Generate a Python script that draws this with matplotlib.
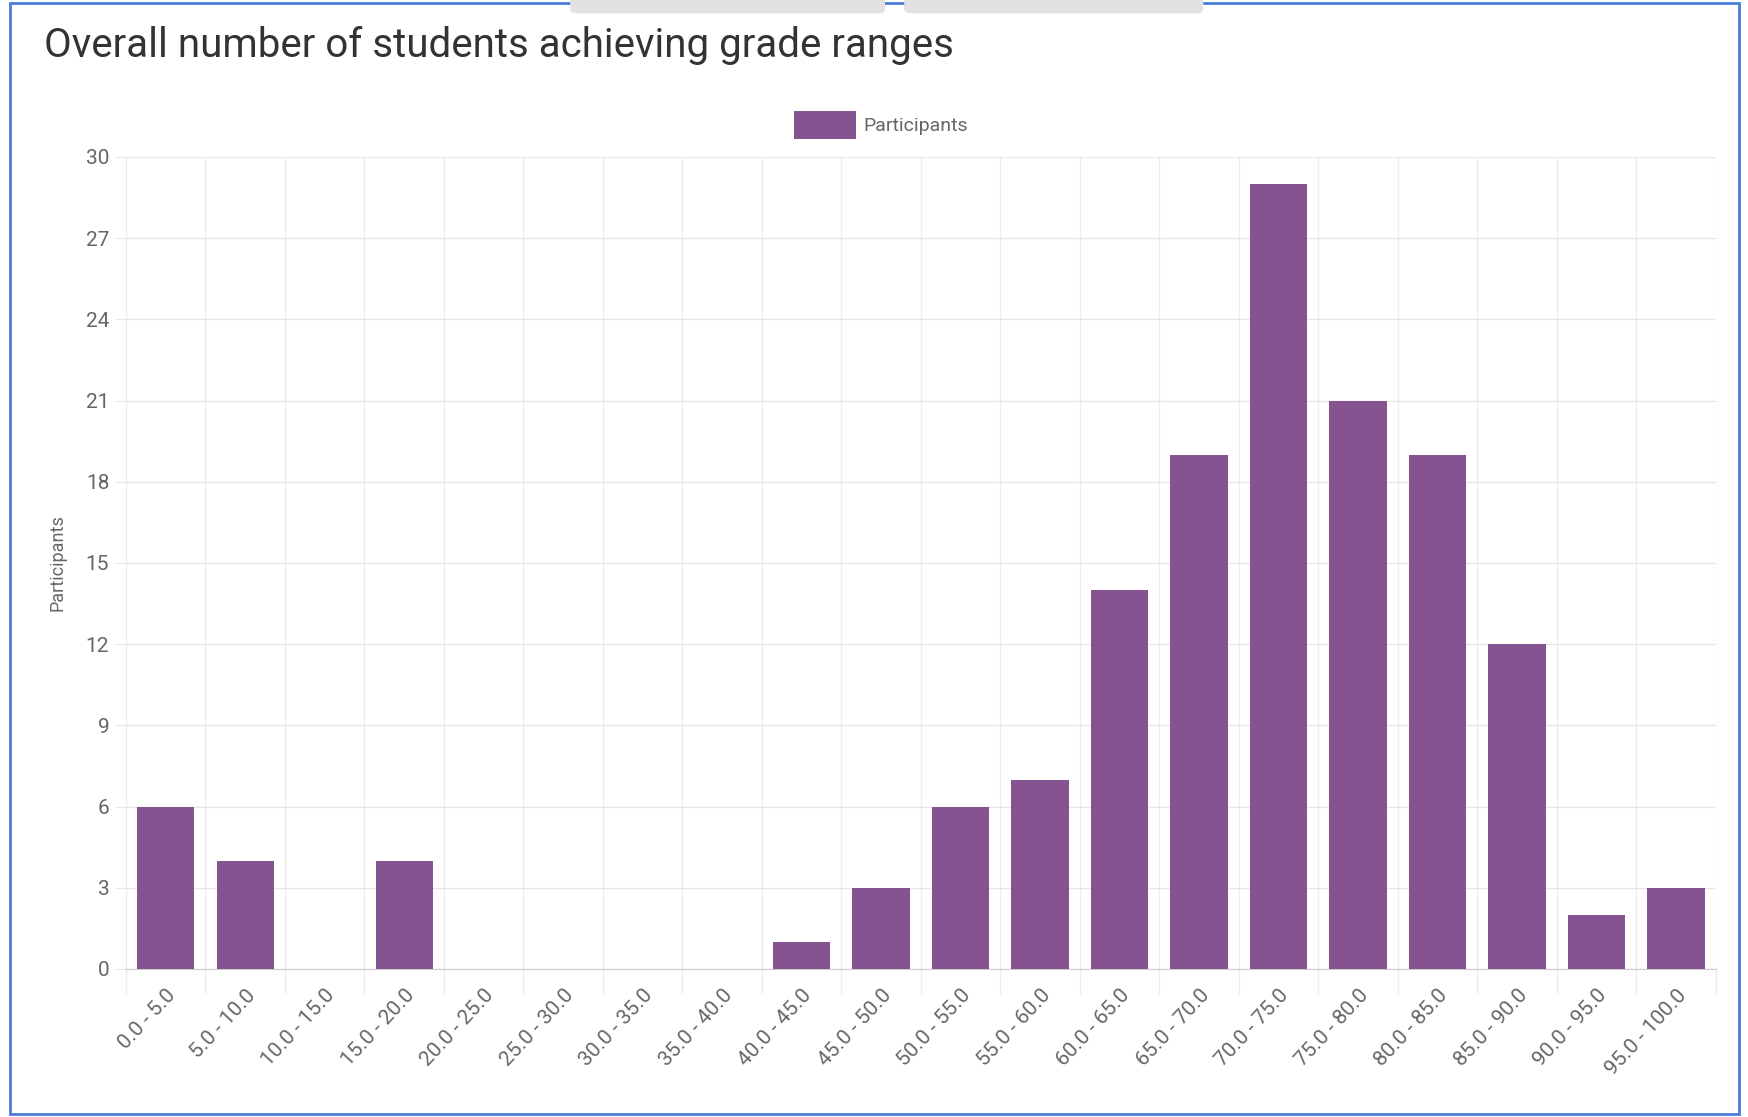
import matplotlib.pyplot as plt
from matplotlib.patches import Rectangle, FancyBboxPatch

# data
grade_ranges = ['0.0 - 5.0', '5.0 - 10.0', '10.0 - 15.0', '15.0 - 20.0', '20.0 - 25.0',
                '25.0 - 30.0', '30.0 - 35.0', '35.0 - 40.0', '40.0 - 45.0', '45.0 - 50.0',
                '50.0 - 55.0', '55.0 - 60.0', '60.0 - 65.0', '65.0 - 70.0', '70.0 - 75.0',
                '75.0 - 80.0', '80.0 - 85.0', '85.0 - 90.0', '90.0 - 95.0', '95.0 - 100.0']
participants = [6, 4, 0, 4, 0, 0, 0, 0, 1, 3, 6, 7, 14, 19, 29, 21, 19, 12, 2, 3]
y_ticks = [0, 3, 6, 9, 12, 15, 18, 21, 24, 27, 30]

BAR_COLOR = '#85538f'
TEXT_GRAY = '#666666'
FONT = ['Roboto', 'DejaVu Sans']

fig = plt.figure(figsize=(17.49, 11.17), dpi=100)

# blue frame around the panel
fig.patches.append(Rectangle((0.006, 0.003), 0.988, 0.994, transform=fig.transFigure,
                             fill=False, edgecolor='#4a7bd6', linewidth=2))
# grey tabs peeking in at the top
for x0, w in [(0.326, 0.18), (0.517, 0.171)]:
    fig.patches.append(FancyBboxPatch((x0, 0.988), w, 0.03, transform=fig.transFigure,
                                      boxstyle='round,pad=0,rounding_size=0.004',
                                      facecolor='#e2e2e2', edgecolor='none'))

fig.text(0.025, 0.959, 'Overall number of students achieving grade ranges',
         fontsize=29, color='#333333', va='center', ha='left', family=FONT)

ax = fig.add_axes([0.072, 0.1325, 0.909, 0.727])
x = range(len(grade_ranges))
ax.bar(x, participants, width=0.72, color=BAR_COLOR, label='Participants', zorder=3)

ax.set_xlim(-0.5, len(grade_ranges) - 0.5)
ax.set_ylim(0, 30)
ax.set_yticks(y_ticks)
ax.set_yticklabels([str(t) for t in y_ticks], family=FONT, fontsize=15, color=TEXT_GRAY)
ax.set_xticks(list(x))
ax.set_xticklabels(grade_ranges, rotation=47, ha='right', rotation_mode='anchor',
                   family=FONT, fontsize=15, color=TEXT_GRAY)
ax.tick_params(axis='y', length=8, color='#e6e6e6', pad=4)
ax.tick_params(axis='x', length=0, pad=12)

# grid: horizontal at ticks, vertical between categories
ax.grid(axis='y', color='#e6e6e6', linewidth=1, zorder=0)
for b in range(len(grade_ranges) + 1):
    ax.axvline(b - 0.5, color='#ececec', linewidth=1, zorder=0)
    ax.plot([b - 0.5, b - 0.5], [0, -0.9], color='#ececec', linewidth=1, clip_on=False)
for s in ['top', 'right', 'left']:
    ax.spines[s].set_visible(False)
ax.spines['bottom'].set_color('#cccccc')

ax.set_ylabel('Participants', family=FONT, fontsize=13, color=TEXT_GRAY, labelpad=14)

leg = ax.legend(loc='lower center', bbox_to_anchor=(0.475, 1.0), frameon=False,
                handlelength=3.2, handleheight=1.9, handletextpad=0.4,
                prop={'family': FONT, 'size': 14})
for t in leg.get_texts():
    t.set_color(TEXT_GRAY)

fig.savefig('out.png', dpi=100)
